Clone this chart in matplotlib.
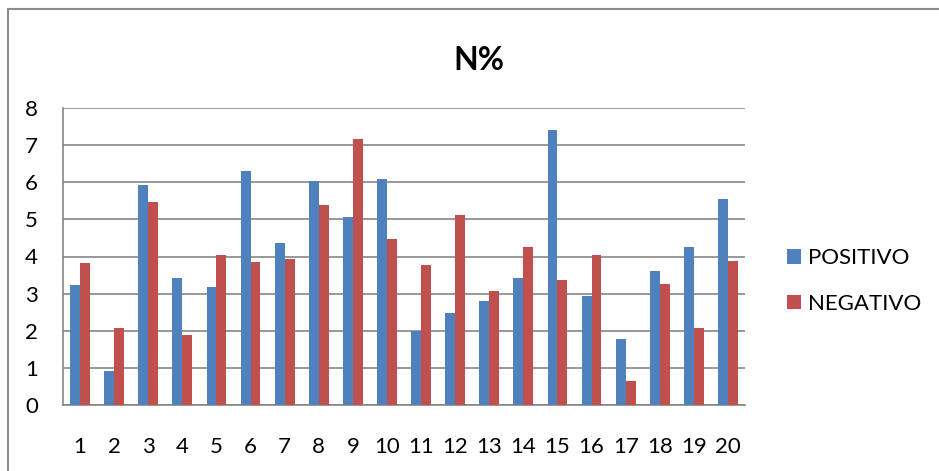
import matplotlib.pyplot as plt
from matplotlib.patches import Rectangle
import numpy as np

plt.rcParams['font.family'] = ['Lato', 'DejaVu Sans']

categories = [str(i) for i in range(1, 21)]
positivo = [3.24, 0.92, 5.93, 3.43, 3.18, 6.30, 4.37, 6.04, 5.07, 6.09,
            2.00, 2.48, 2.81, 3.43, 7.41, 2.94, 1.78, 3.61, 4.26, 5.55]
negativo = [3.83, 2.08, 5.47, 1.89, 4.04, 3.86, 3.94, 5.39, 7.17, 4.48,
            3.78, 5.12, 3.08, 4.26, 3.37, 4.04, 0.65, 3.26, 2.08, 3.88]

W, H = 939, 471
fig = plt.figure(figsize=(W / 100, H / 100), dpi=100)

# outer chart border (runs off the right and bottom of the image)
fig.patches.append(Rectangle((8 / W, -0.1), 1.1, 1 - 9 / H + 0.1,
                             transform=fig.transFigure, fill=False,
                             edgecolor='#8c8c8c', linewidth=1.5))

ax = fig.add_axes([63 / W, 1 - 405 / H, (745 - 63) / W, (405 - 108) / H])

x = np.arange(1, len(categories) + 1)
bw = 0.29
ax.bar(x - bw / 2, positivo, bw, color='#4f81bd', label='POSITIVO', zorder=3)
ax.bar(x + bw / 2, negativo, bw, color='#c0504d', label='NEGATIVO', zorder=3)

ax.set_xlim(0.5, 20.5)
ax.set_ylim(0, 8)
ax.set_yticks(range(0, 9))
ax.set_xticks(x)
ax.set_xticklabels(categories)
ax.yaxis.grid(True, color='#868686', linewidth=1.2, zorder=0)
ax.tick_params(axis='both', length=0, labelsize=16)
ax.tick_params(axis='y', pad=18)
ax.tick_params(axis='x', pad=23)
for side in ['top', 'right']:
    ax.spines[side].set_visible(False)
for side in ['left', 'bottom']:
    ax.spines[side].set_color('#868686')
    ax.spines[side].set_linewidth(1.2)

fig.text(479 / W, 1 - 60 / H, 'N%', ha='center', va='center',
         fontsize=23, fontweight='bold')

fig.legend(loc='center left', bbox_to_anchor=(787 / W, 1 - 281 / H),
           frameon=False, fontsize=16, handlelength=0.65, handleheight=0.65,
           handletextpad=0.3, labelspacing=1.15, borderpad=0,
           borderaxespad=0)

fig.savefig('out.png', dpi=100)
